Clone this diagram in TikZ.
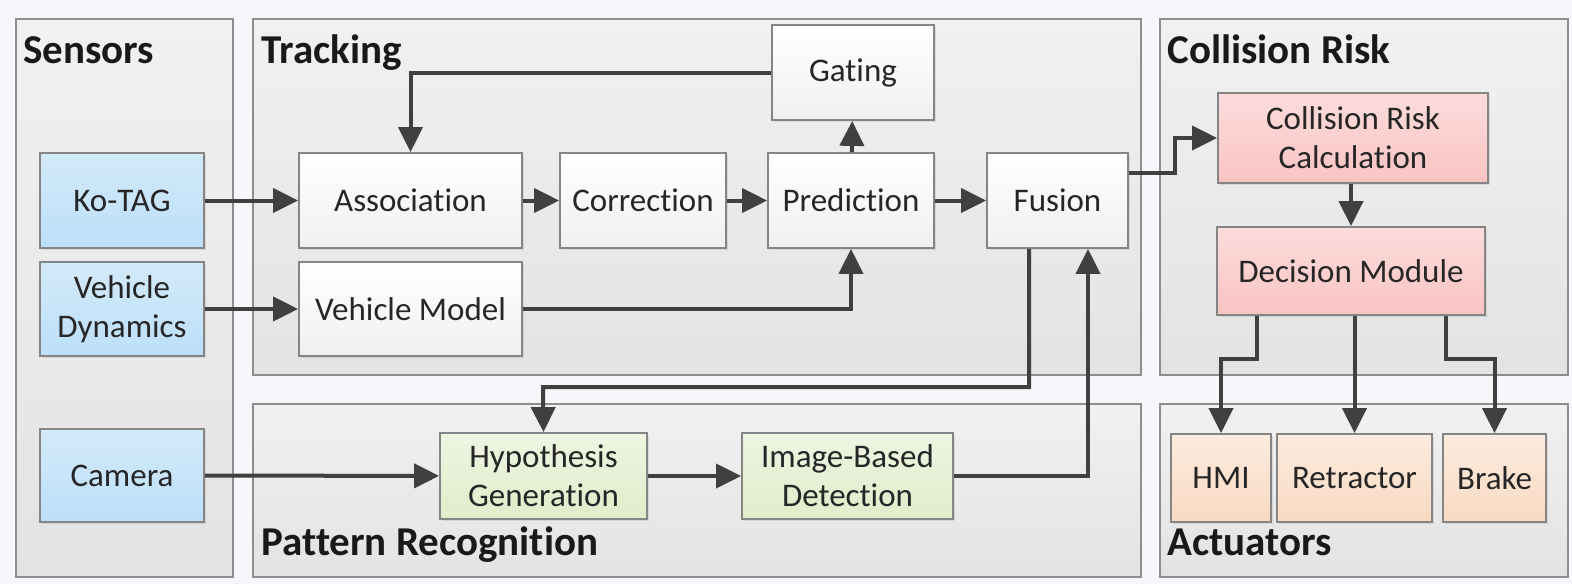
\documentclass[tikz,border=0pt]{standalone}
\usepackage{fontspec}
\setmainfont{Carlito}[Ligatures=NoCommon]
\usetikzlibrary{arrows.meta,shadows}

\definecolor{bgc}{HTML}{F6F7FB}
\definecolor{panelTop}{HTML}{F1F1F1}
\definecolor{panelBot}{HTML}{E3E3E3}
\definecolor{panelLine}{HTML}{8E8E8E}
\definecolor{boxLine}{HTML}{858585}
\definecolor{arrowc}{HTML}{404040}
\definecolor{txt}{HTML}{262626}
\definecolor{blueTop}{HTML}{D3EAF9}
\definecolor{blueBot}{HTML}{BCDFFA}
\definecolor{pinkTop}{HTML}{FDDCDC}
\definecolor{pinkBot}{HTML}{F9C3C3}
\definecolor{orangeTop}{HTML}{FCEBDF}
\definecolor{orangeBot}{HTML}{F9DAC2}
\definecolor{greenTop}{HTML}{EEF5E2}
\definecolor{greenBot}{HTML}{E0ECCA}

\begin{document}
\begin{tikzpicture}[x=0.5pt,y=-0.5pt,
  panel/.style={draw=panelLine, line width=1pt, top color=panelTop, bottom color=panelBot,
    inner sep=0pt, anchor=north west},
  title/.style={font=\fontsize{20.5}{24}\selectfont\bfseries, text=black!90, anchor=base west, inner sep=0pt},
  box/.style={draw=boxLine, line width=0.9pt, inner sep=0pt, align=center, text=txt,
    font=\fontsize{16.5}{19.5}\selectfont,
    drop shadow={shadow xshift=1.2pt, shadow yshift=-1.2pt, opacity=0.18}},
  plain/.style={box, top color=white, bottom color=black!6},
  sensor/.style={box, top color=blueTop, bottom color=blueBot},
  risk/.style={box, top color=pinkTop, bottom color=pinkBot},
  actuator/.style={box, top color=orangeTop, bottom color=orangeBot},
  vision/.style={box, top color=greenTop, bottom color=greenBot},
  flow/.style={draw=arrowc, line width=2pt, -{Triangle[length=12.5pt,width=12pt]}},
]
% canvas
\fill[bgc] (0,0) rectangle (1572,584);
\useasboundingbox (0,0) rectangle (1572,584);

% group panels
\node[panel, minimum width=108.5pt, minimum height=279pt] (sensorsP) at (15,18) {};
\node[panel, minimum width=444pt, minimum height=178pt] (trackP) at (252,18) {};
\node[panel, minimum width=444pt, minimum height=86.5pt] (patternP) at (252,403) {};
\node[panel, minimum width=204pt, minimum height=178pt] (riskP) at (1159,18) {};
\node[panel, minimum width=204pt, minimum height=86.5pt] (actP) at (1159,403) {};

\node[title] (tSens) at (23,63) {Sensors};
\node[title] (tTrack) at (261,63) {Tracking};
\node[title] (tRisk) at (1167,63) {Collision Risk};
\node[title] (tPat) at (261,555) {Pattern Recognition};
\node[title] (tAct) at (1167,555) {Actuators};

% sensors
\node[sensor, minimum width=82pt, minimum height=47.5pt] (kotag) at (122,200.5) {Ko-TAG};
\node[sensor, minimum width=82pt, minimum height=47pt] (vdyn) at (122,309) {Vehicle\\Dynamics};
\node[sensor, minimum width=82pt, minimum height=46.5pt] (camera) at (122,475.5) {Camera};

% tracking
\node[plain, minimum width=111.5pt, minimum height=47.5pt] (assoc) at (410.5,200.5) {Association};
\node[plain, minimum width=83pt, minimum height=47.5pt] (corr) at (643,200.5) {Correction};
\node[plain, minimum width=81pt, minimum height=47.5pt] (gating) at (853,72.5) {Gating};
\node[plain, minimum width=83pt, minimum height=47.5pt] (pred) at (851,200.5) {Prediction};
\node[plain, minimum width=70.5pt, minimum height=47.5pt] (fusion) at (1057.5,200.5) {Fusion};
\node[plain, minimum width=111.5pt, minimum height=47pt] (vmodel) at (410.5,309) {Vehicle Model};

% pattern recognition
\node[vision, minimum width=103.5pt, minimum height=43pt] (hyp) at (543.5,476) {Hypothesis\\Generation};
\node[vision, minimum width=105.5pt, minimum height=43pt] (ibd) at (847.5,476) {Image-Based\\Detection};

% collision risk
\node[risk, minimum width=135pt, minimum height=45pt] (crc) at (1353,138) {Collision Risk\\Calculation};
\node[risk, minimum width=134pt, minimum height=44pt] (dm) at (1351,271) {Decision Module};

% actuators
\node[actuator, minimum width=50pt, minimum height=44pt] (hmi) at (1221,478) {HMI};
\node[actuator, minimum width=77.5pt, minimum height=44pt] (retr) at (1354.5,478) {Retractor};
\node[actuator, minimum width=51.5pt, minimum height=44pt] (brake) at (1494.5,478) {Brake};

% connectors
\draw[flow] (kotag) -- (assoc);
\draw[flow] (vdyn) -- (vmodel);
\draw[flow] (camera) -- (hyp);
\draw[flow] (assoc) -- (corr);
\draw[flow] (corr) -- (pred);
\draw[flow] (pred) -- (fusion);
\draw[flow] (pred) -- (gating);
\draw[flow] (gating.west) -| (assoc.north);
\draw[flow] (vmodel.east) -| (pred.south);
\draw[flow] (hyp) -- (ibd);
\draw[flow] (fusion.south -| 1029,0) |- (543,387) -- (hyp.north);
\draw[flow] (ibd.east) -| (fusion.south -| 1088,0);
\draw[flow] (fusion.east |- 0,173) -| (1175,138) -- (crc.west);
\draw[flow] (crc.south -| 1351,0) -- (dm.north -| 1351,0);
\draw[flow] (dm.south -| 1257,0) |- (1221,359) -- (hmi.north);
\draw[flow] (dm.south -| 1354.5,0) -- (retr.north);
\draw[flow] (dm.south -| 1446,0) |- (1494.5,359) -- (brake.north);
\end{tikzpicture}
\end{document}
